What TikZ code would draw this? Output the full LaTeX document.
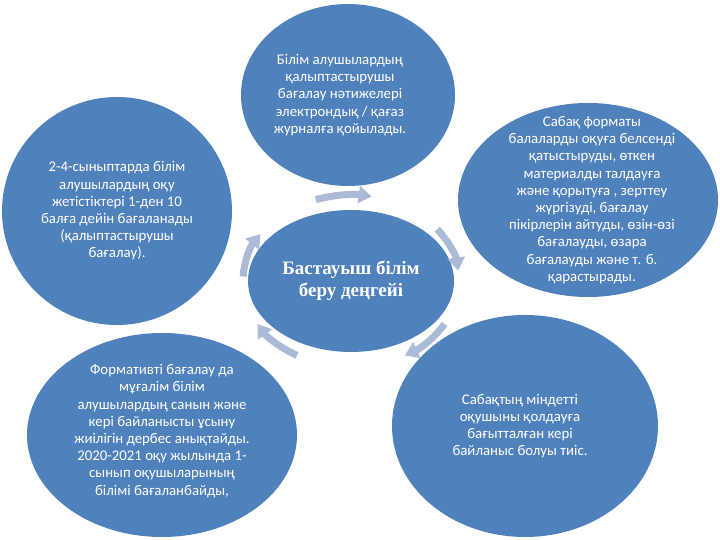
\documentclass[tikz,border=0pt]{standalone}
\usepackage{fontspec}
\setmainfont{Carlito}
\newfontfamily\hubfont{Liberation Serif}
\usetikzlibrary{shapes.geometric,arrows.meta}
\definecolor{bubblue}{RGB}{79,129,189}
\definecolor{arrowgrey}{RGB}{170,186,215}

\begin{document}
\begin{tikzpicture}[x=1bp,y=1bp,
    bubble/.style={ellipse, fill=bubblue, inner sep=0pt},
    bubtext/.style={text=white, align=center, inner sep=0pt, font=\fontsize{14.8bp}{17.2bp}\selectfont},
    cyc/.style={arrowgrey, line width=7bp, -{Triangle[length=13bp,width=17bp]}}]
      \useasboundingbox (0,0) rectangle (720,540);
      % centre
      \node[bubble, minimum width=206bp, minimum height=142bp] (hub) at (351,259) {};
      \node[bubtext, font=\hubfont\bfseries\fontsize{19bp}{22bp}\selectfont] (hubtext) at (hub) {Бастауыш білім\\беру деңгейі};
      % top
      \node[bubble, minimum width=214bp, minimum height=182bp] (journal) at (348,445) {};
      \node[bubtext] (journaltext) at ([xshift=-8bp]journal.center) {Білім алушылардың\\қалыптастырушы\\бағалау нәтижелері\\электрондық / қағаз\\журналға қойылады.};
      % right
      \node[bubble, minimum width=260bp, minimum height=194bp] (format) at (588,340) {};
      \node[bubtext] (formattext) at ([xshift=4bp]format.center) {Сабақ форматы\\балаларды оқуға белсенді\\қатыстыруды, өткен\\материалды  талдауға\\және қорытуға , зерттеу\\жүргізуді, бағалау\\пікірлерін айтуды, өзін-өзі\\бағалауды, өзара\\бағалауды және т. б.\\қарастырады.};
      % bottom right
      \node[bubble, minimum width=266bp, minimum height=222bp] (feedback) at (525,114) {};
      \node[bubtext] (feedbacktext) at ([xshift=-5bp]feedback.center) {Сабақтың міндетті\\оқушыны қолдауға\\бағытталған  кері\\байланыс болуы тиіс.};
      % bottom left
      \node[bubble, minimum width=270bp, minimum height=204bp] (formative) at (162,105) {};
      \node[bubtext] (formativetext) at ([yshift=4bp]formative.center) {Формативті бағалау да\\мұғалім білім\\алушылардың санын және\\кері байланысты ұсыну\\жиілігін дербес анықтайды.\\2020-2021 оқу жылында 1-\\сынып оқушыларының\\білімі бағаланбайды,};
      % left
      \node[bubble, minimum width=230bp, minimum height=228bp] (scale) at (117,329) {};
      \node[bubtext] (scaletext) at (scale) {2-4-сыныптарда білім\\алушылардың оқу\\жетістіктері 1-ден 10\\балға дейін бағаланады\\(қалыптастырушы\\бағалау).};
      % cycle arrows
      \foreach \a in {94,22,315,225,162}
        \draw[cyc] ([shift={(\a+15:108 and 86)}]hub.center)
          arc[start angle=\a+15, end angle=\a-15, x radius=108, y radius=86];
    \end{tikzpicture}
\end{document}
